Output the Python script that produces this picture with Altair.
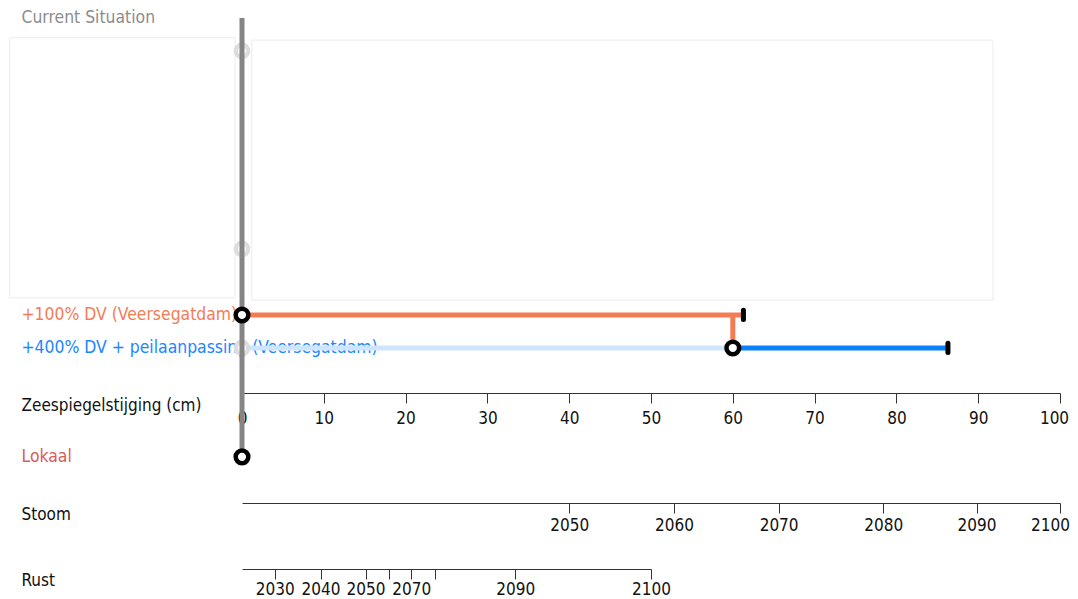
import json
import altair as alt
import pandas as pd

FONT = "DejaVu Sans Condensed, DejaVu Sans, sans-serif"
FS = 17

# ---------------- data ----------------
# rows of the pathways map (label, lane, label colour)
row_labels = ["Current Situation", "+100% DV (Veersegatdam)",
              "+400% DV + peilaanpassing (Veersegatdam)", "Lokaal"]
row_lanes = [0, 9, 10, 13.3]
row_colors = ["#8c8c8c", "#f47c55", "#1a86ff", "#d95b5b"]

# horizontal pathway segments (sea level rise in cm)
seg_names = ["+400% DV (inactive part)", "+100% DV", "+400% DV"]
seg_start = [0, 0, 60]
seg_end = [60, 61.3, 86.3]
seg_lane = [10, 9, 10]
seg_colors = ["#cde5fe", "#f47c55", "#0a80ff"]

# transfer +100% DV -> +400% DV
transfer_at = [60]
transfer_from = [9]
transfer_to = [10]

# tipping points (end ticks)
tip_cm = [61.3, 86.3]
tip_lane = [9, 10]

# decision nodes (open black circles)
node_cm = [0, 60, 0]
node_lane = [9, 10, 13.3]

# greyed-out start nodes
grey_cm = [0, 0, 0]
grey_lane = [1, 7, 10]

# current situation line
current_cm = [0]
current_from = [0]
current_to = [13.3]

# faint overlay panels
box_x0 = [-28.4, 1.2]
box_x1 = [-0.85, 91.8]
box_lane0 = [0.6, 0.67]
box_lane1 = [8.48, 8.55]

# axes
cm_ticks = list(range(0, 101, 10))
stoom_years = [2030, 2040, 2050, 2060, 2070, 2080, 2090, 2100]
stoom_cm = [10.5, 25.2, 40.0, 52.8, 65.6, 78.4, 89.8, 100.0]
rust_years = [2030, 2040, 2050, 2060, 2070, 2080, 2090, 2100]
rust_cm = [4.0, 9.6, 15.1, 18.0, 20.7, 23.6, 33.4, 50.0]

# ---------------- tables ----------------
seg_df = pd.DataFrame({"name": seg_names, "x0": seg_start, "x1": seg_end,
                       "lane": seg_lane, "color": seg_colors})
transfer_df = pd.DataFrame({"x0": transfer_at, "l0": transfer_from, "l1": transfer_to})
tip_df = pd.DataFrame({"x0": tip_cm, "lane": tip_lane})
node_df = pd.DataFrame({"x0": node_cm, "lane": node_lane})
grey_df = pd.DataFrame({"x0": grey_cm, "lane": grey_lane})
current_df = pd.DataFrame({"x0": current_cm, "l0": current_from, "l1": current_to})
box_df = pd.DataFrame({"x0": box_x0, "x1": box_x1, "l0": box_lane0, "l1": box_lane1})

W = 818
HA = 460
AXIS_COLOR = "#333333"
TEXT_COLOR = "#111111"
LEFT = 221

x_scale = alt.Scale(domain=[0, 100], nice=False, zero=False)
y_scale = alt.Scale(domain=[-0.03, 13.91], reverse=True, nice=False, zero=False)


def last_shift(last_value, shift):
    # keep the last (right-most) label inside the page
    return {"condition": {"test": f"datum.value == {last_value}", "value": shift}, "value": 0}


x_axis = alt.Axis(
    values=cm_ticks, orient="bottom", offset=-84, grid=False,
    tickSize=10, tickColor=AXIS_COLOR, domainColor=AXIS_COLOR,
    labelPadding=7, labelFontSize=FS, labelColor=TEXT_COLOR, labelFlush=False,
    labelOverlap=False, labelOffset=last_shift(100, -6),
    title="Zeespiegelstijging (cm)", titleX=-LEFT, titleY=12, titleAlign="left",
    titleBaseline="middle", titleFontSize=FS, titleFontWeight="normal",
    titleColor=TEXT_COLOR, titleAngle=0,
)
y_axis = alt.Axis(
    values=row_lanes, orient="left", grid=False, ticks=False, domain=False,
    labelExpr=json.dumps(row_labels) + "[indexof(" + json.dumps(row_lanes) + ", datum.value)]",
    labelColor=alt.ExprRef(json.dumps(row_colors) + "[indexof(" + json.dumps(row_lanes) + ", datum.value)]"),
    labelAlign="left", labelBaseline="middle", labelPadding=LEFT, labelFontSize=17.4,
    labelLimit=600, labelOverlap=False, title=None,
)


def X(f):
    return alt.X(f, type="quantitative", scale=x_scale, axis=x_axis)


def Y(f):
    return alt.Y(f, type="quantitative", scale=y_scale, axis=y_axis)


boxes = alt.Chart(box_df).mark_rect(fill="white", stroke="#ececec", strokeWidth=1).encode(
    x=X("x0"), x2="x1", y=Y("l0"), y2="l1")

segments = alt.Chart(seg_df).mark_rule(strokeWidth=5).encode(
    x=X("x0"), x2="x1", y=Y("lane"), color=alt.Color("color:N", scale=None))

grey_nodes = alt.Chart(grey_df).mark_point(
    shape="circle", size=150, filled=False, strokeWidth=4.5, color="#dddddd",
    fill="white", fillOpacity=1).encode(x=X("x0"), y=Y("lane"))

current = alt.Chart(current_df).mark_rule(strokeWidth=5, color="#858585").encode(
    x=X("x0"), y=Y("l0"), y2="l1")

transfer = alt.Chart(transfer_df).mark_rule(strokeWidth=5, color=seg_colors[1]).encode(
    x=X("x0"), y=Y("l0"), y2="l1")

tips = alt.Chart(tip_df).mark_point(
    shape="M0,-1L0,1", size=86, filled=False, strokeWidth=5, strokeCap="round",
    color="black", opacity=1).encode(x=X("x0"), y=Y("lane"))

nodes = alt.Chart(node_df).mark_point(
    shape="circle", size=160, filled=False, strokeWidth=4.5, color="black",
    fill="white", fillOpacity=1, opacity=1).encode(x=X("x0"), y=Y("lane"))

panel_a = alt.layer(boxes, segments, grey_nodes, current, transfer, tips, nodes).properties(
    width=W, height=HA)


# ---------------- time axes ----------------
def year_axis(title, cms, years, pad, hide_below=None, last_offset=0):
    lookup = json.dumps(years) + "[indexof(" + json.dumps(cms) + ", datum.value)]"
    if hide_below is not None:
        expr = f"datum.value < {hide_below} ? '' : " + lookup
    else:
        expr = lookup
    kw = {}
    if hide_below is not None:
        kw["tickOpacity"] = {"condition": {"test": f"datum.value < {hide_below}", "value": 0}, "value": 1}
    if last_offset:
        kw["labelOffset"] = last_shift(cms[-1], last_offset)
    return alt.Axis(
        values=cms, labelExpr=expr, orient="bottom", grid=False,
        tickSize=10, tickColor=AXIS_COLOR, domainColor=AXIS_COLOR,
        labelPadding=pad, labelFontSize=FS, labelColor=TEXT_COLOR, labelFlush=False,
        labelOverlap="greedy",
        title=title, titleX=-LEFT, titleY=11, titleAlign="left", titleBaseline="middle",
        titleFontSize=FS, titleFontWeight="normal", titleColor=TEXT_COLOR, titleAngle=0,
        **kw,
    )


stoom_df = pd.DataFrame({"year": stoom_years, "cm": stoom_cm})
rust_df = pd.DataFrame({"year": rust_years, "cm": rust_cm})

panel_b = alt.Chart(stoom_df).mark_point(opacity=0).encode(
    x=alt.X("cm:Q", scale=alt.Scale(domain=[0, 100], nice=False, zero=False),
            axis=year_axis("Stoom", stoom_cm, stoom_years, 4, hide_below=30, last_offset=-10))
).properties(width=W, height=1)

panel_c = alt.Chart(rust_df).mark_point(opacity=0).encode(
    x=alt.X("cm:Q", scale=alt.Scale(domain=[0, 50], nice=False, zero=False),
            axis=year_axis("Rust", rust_cm, rust_years, 2))
).properties(width=W // 2, height=41)

chart = alt.vconcat(panel_a, panel_b, panel_c, spacing=25).properties(
    bounds="flush",
    padding={"left": 1, "top": 0, "right": 0, "bottom": 0},
).configure(font=FONT).configure_view(stroke=None)

chart.save("out.html", embed_options={"renderer": "svg", "actions": False})
